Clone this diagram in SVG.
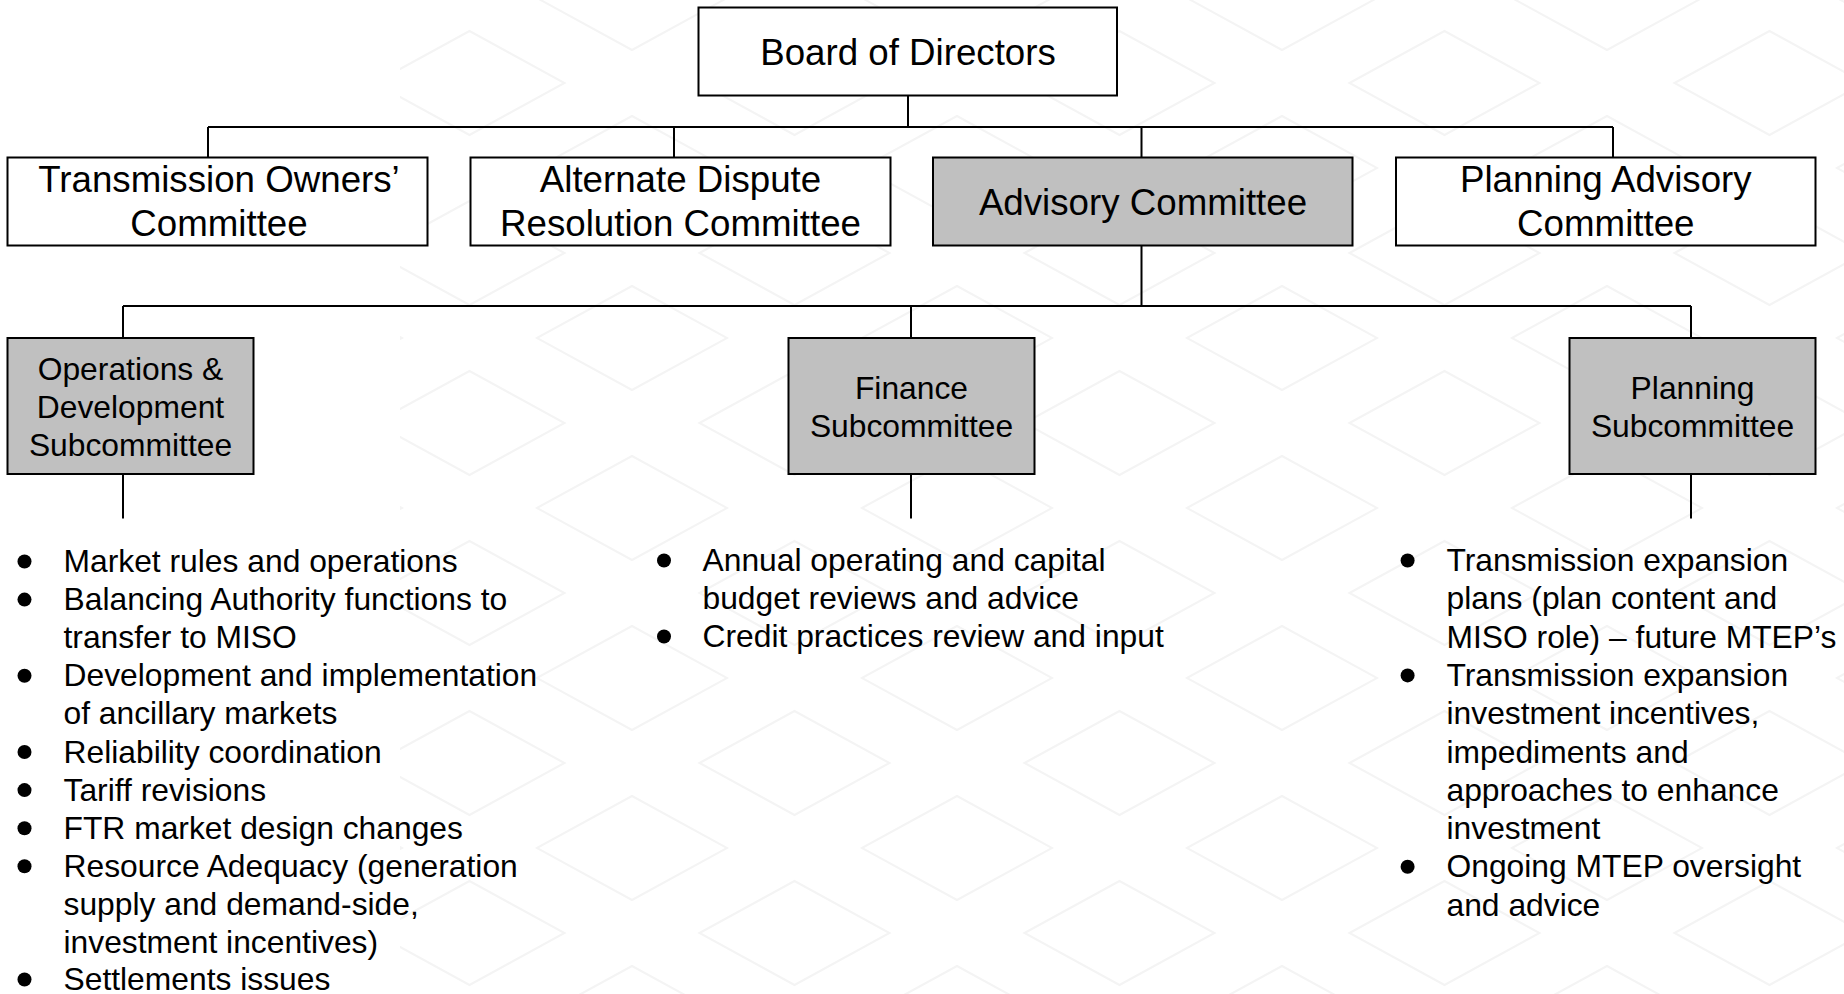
<svg xmlns="http://www.w3.org/2000/svg" width="1844" height="994" viewBox="0 0 1844 994">
<defs>
<style>
.box{stroke:#000;stroke-width:2;fill:#fff}
.gray{fill:#c0c0c0}
.conn{stroke:#000;stroke-width:2;fill:none}
text{font-family:"Liberation Sans",Arial,sans-serif;fill:#000}
.t1{font-size:36.7px;text-anchor:middle}
.t2{font-size:31.8px;text-anchor:middle}
.li{font-size:31.8px}
.bul{fill:#000}
</style>
<pattern id="wm" patternUnits="userSpaceOnUse" x="-18" y="-2" width="325" height="170">
<g fill="none" stroke="#f4f4f4" stroke-width="2">
<polygon points="-95,0 0,-52 95,0 0,52"/>
<polygon points="230,0 325,-52 420,0 325,52"/>
<polygon points="-95,170 0,118 95,170 0,222"/>
<polygon points="230,170 325,118 420,170 325,222"/>
<polygon points="67.5,85 162.5,33 257.5,85 162.5,137"/>
</g>
</pattern>
</defs>
<rect x="0" y="0" width="1844" height="994" fill="#fff"/>
<rect x="400" y="0" width="1444" height="994" fill="url(#wm)"/>

<g id="connectors">
<path class="conn" d="M908 95.5V127M208 127H1613M208 127V157.5M674 127V157.5M1141.5 127V157.5M1613 127V157.5"/>
<path class="conn" d="M1141.5 245.5V306M123 306H1691M123 306V338M911 306V338M1691 306V338"/>
<path class="conn" d="M123 474V518.5M911 474V518.5M1691 474V518.5"/>
</g>

<g id="board">
<rect class="box" x="698.5" y="7.5" width="418.5" height="88"/>
<text class="t1" x="908" y="65">Board of Directors</text>
</g>

<g id="transmission-owners">
<rect class="box" x="7.5" y="157.5" width="420" height="88"/>
<text class="t1" x="219" y="192">Transmission Owners’</text>
<text class="t1" x="219" y="236">Committee</text>
</g>

<g id="alternate-dispute">
<rect class="box" x="470.5" y="157.5" width="420" height="88"/>
<text class="t1" x="680.5" y="192">Alternate Dispute</text>
<text class="t1" x="680.5" y="236">Resolution Committee</text>
</g>

<g id="advisory-committee">
<rect class="box gray" x="933" y="157.5" width="419.5" height="88"/>
<text class="t1" x="1143" y="214.5">Advisory Committee</text>
</g>

<g id="planning-advisory">
<rect class="box" x="1396" y="157.5" width="419.5" height="88"/>
<text class="t1" x="1605.8" y="192">Planning Advisory</text>
<text class="t1" x="1605.8" y="236">Committee</text>
</g>

<g id="ops-dev">
<rect class="box gray" x="7.5" y="338" width="246" height="136"/>
<text class="t2" x="130.5" y="380">Operations &amp;</text>
<text class="t2" x="130.5" y="418">Development</text>
<text class="t2" x="130.5" y="456">Subcommittee</text>
</g>

<g id="finance">
<rect class="box gray" x="788.5" y="338" width="246" height="136"/>
<text class="t2" x="911.5" y="398.5">Finance</text>
<text class="t2" x="911.5" y="436.5">Subcommittee</text>
</g>

<g id="planning-sub">
<rect class="box gray" x="1569.5" y="338" width="246" height="136"/>
<text class="t2" x="1692.5" y="398.5">Planning</text>
<text class="t2" x="1692.5" y="436.5">Subcommittee</text>
</g>

<g id="ops-list">
<circle class="bul" cx="24.5" cy="561.5" r="7"/>
<circle class="bul" cx="24.5" cy="599.6" r="7"/>
<circle class="bul" cx="24.5" cy="675.8" r="7"/>
<circle class="bul" cx="24.5" cy="752" r="7"/>
<circle class="bul" cx="24.5" cy="790.1" r="7"/>
<circle class="bul" cx="24.5" cy="828.2" r="7"/>
<circle class="bul" cx="24.5" cy="866.3" r="7"/>
<circle class="bul" cx="24.5" cy="979.5" r="7"/>
<text class="li" x="63.5" y="572">Market rules and operations</text>
<text class="li" x="63.5" y="610.1">Balancing Authority functions to</text>
<text class="li" x="63.5" y="648.2">transfer to MISO</text>
<text class="li" x="63.5" y="686.3">Development and implementation</text>
<text class="li" x="63.5" y="724.4">of ancillary markets</text>
<text class="li" x="63.5" y="762.5">Reliability coordination</text>
<text class="li" x="63.5" y="800.6">Tariff revisions</text>
<text class="li" x="63.5" y="838.7">FTR market design changes</text>
<text class="li" x="63.5" y="876.8">Resource Adequacy (generation</text>
<text class="li" x="63.5" y="914.9">supply and demand-side,</text>
<text class="li" x="63.5" y="953">investment incentives)</text>
<text class="li" x="63.5" y="990">Settlements issues</text>
</g>

<g id="finance-list">
<circle class="bul" cx="664" cy="560.5" r="7"/>
<circle class="bul" cx="664" cy="636.5" r="7"/>
<text class="li" x="702.5" y="571">Annual operating and capital</text>
<text class="li" x="702.5" y="609">budget reviews and advice</text>
<text class="li" x="702.5" y="647">Credit practices review and input</text>
</g>

<g id="planning-list">
<circle class="bul" cx="1407.6" cy="560.5" r="7"/>
<circle class="bul" cx="1407.6" cy="675.4" r="7"/>
<circle class="bul" cx="1407.6" cy="866.8" r="7"/>
<text class="li" x="1446.5" y="571">Transmission expansion</text>
<text class="li" x="1446.5" y="609.3">plans (plan content and</text>
<text class="li" x="1446.5" y="647.6">MISO role) – future MTEP’s</text>
<text class="li" x="1446.5" y="685.9">Transmission expansion</text>
<text class="li" x="1446.5" y="724.2">investment incentives,</text>
<text class="li" x="1446.5" y="762.5">impediments and</text>
<text class="li" x="1446.5" y="800.7">approaches to enhance</text>
<text class="li" x="1446.5" y="839">investment</text>
<text class="li" x="1446.5" y="877.3">Ongoing MTEP oversight</text>
<text class="li" x="1446.5" y="915.6">and advice</text>
</g>
</svg>
